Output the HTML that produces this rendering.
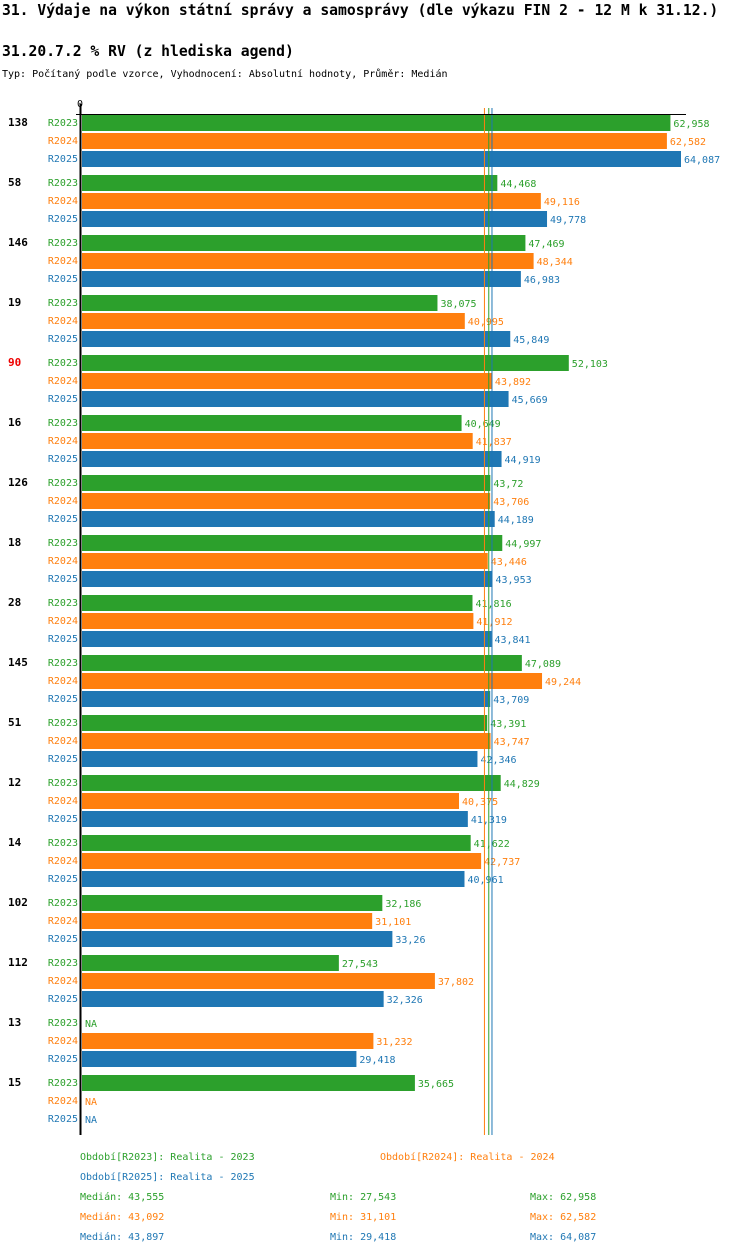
<!DOCTYPE html>
<html><head><meta charset="utf-8"><style>
body{margin:0;background:#fff;width:750px;height:1254px;overflow:hidden}
text{font-family:"DejaVu Sans Mono","Liberation Mono",monospace}
</style></head><body>
<svg id="chart" width="750" height="1254" xmlns="http://www.w3.org/2000/svg">
<text x="2" y="15" font-size="14.7" font-weight="bold">31. Výdaje na výkon státní správy a samosprávy (dle výkazu FIN 2 - 12 M k 31.12.)</text>
<text x="2" y="56" font-size="14.7" font-weight="bold">31.20.7.2 % RV (z hlediska agend)</text>
<text x="2" y="77" font-size="10">Typ: Počítaný podle vzorce, Vyhodnocení: Absolutní hodnoty, Průměr: Medián</text>
<text x="80" y="107" font-size="10" text-anchor="middle">0</text>
<g id="bars"></g>
<g id="legend"></g>
</svg>
<script>
const categories=["138","58","146","19","90","16","126","18","28","145","51","12","14","102","112","13","15"];
const s2023=[62958,44468,47469,38075,52103,40649,43720,44997,41816,47089,43391,44829,41622,32186,27543,null,35665];
const s2024=[62582,49116,48344,40995,43892,41837,43706,43446,41912,49244,43747,40375,42737,31101,37802,31232,null];
const s2025=[64087,49778,46983,45849,45669,44919,44189,43953,43841,43709,42346,41319,40961,33260,32326,29418,null];
const labels2023=["62,958","44,468","47,469","38,075","52,103","40,649","43,72","44,997","41,816","47,089","43,391","44,829","41,622","32,186","27,543","NA","35,665"];
const labels2024=["62,582","49,116","48,344","40,995","43,892","41,837","43,706","43,446","41,912","49,244","43,747","40,375","42,737","31,101","37,802","31,232","NA"];
const labels2025=["64,087","49,778","46,983","45,849","45,669","44,919","44,189","43,953","43,841","43,709","42,346","41,319","40,961","33,26","32,326","29,418","NA"];
const seriesNames=["R2023","R2024","R2025"];
const medians=[43555,43092,43897];
const highlight="90";
const colors=["#2ca02c","#ff7f0e","#1f77b4"];
const NS="http://www.w3.org/2000/svg";
const x0=81, maxV=64087, maxPx=600;
const xs=v=>x0+v/maxV*maxPx;
const g=document.getElementById('bars');
function mk(t,a,txt){const e=document.createElementNS(NS,t);for(const k in a)e.setAttribute(k,a[k]);if(txt!=null)e.textContent=txt;g.appendChild(e);return e;}
const series=[s2023,s2024,s2025], lbls=[labels2023,labels2024,labels2025];
categories.forEach((c,i)=>{
  const gy=114+i*60;
  const t=mk('text',{x:8,y:gy+12,'font-size':11,'font-weight':'bold',fill:c===highlight?'#e00':'#000'},c);
  
  
  series.forEach((s,j)=>{
    const y=gy+1+j*18;
    const sl=mk('text',{x:78,y:y+11,'font-size':10,'text-anchor':'end',fill:colors[j]},seriesNames[j]);
    
    
    const v=s[i];
    let end=x0+1;
    if(v!=null){
      const r=mk('rect',{x:x0+1,y:y,width:xs(v)-x0-1,height:16,fill:colors[j]});
      
      
      end=xs(v);
    }
    const vl=mk('text',{x:end+3,y:y+12,'font-size':10,fill:colors[j]},lbls[j][i]);
    
    
  });
});
[1,0,2].forEach(j=>{
  const l=mk('line',{x1:xs(medians[j]),x2:xs(medians[j]),y1:108,y2:1135,stroke:colors[j],'stroke-width':1});
  
  
});
const ax=mk('line',{x1:80.5,x2:80.5,y1:104,y2:1135,stroke:'#000','stroke-width':2});


const tx=mk('line',{x1:76,x2:686,y1:114.5,y2:114.5,stroke:'#000','stroke-width':1});


const leg=[
 [80,1160,"Období[R2023]: Realita - 2023",0],[380,1160,"Období[R2024]: Realita - 2024",1],[80,1180,"Období[R2025]: Realita - 2025",2],
 [80,1200,"Medián: 43,555",0],[330,1200,"Min: 27,543",0],[530,1200,"Max: 62,958",0],
 [80,1220,"Medián: 43,092",1],[330,1220,"Min: 31,101",1],[530,1220,"Max: 62,582",1],
 [80,1240,"Medián: 43,897",2],[330,1240,"Min: 29,418",2],[530,1240,"Max: 64,087",2]];
leg.forEach(l=>{
  const e=mk('text',{x:l[0],y:l[1],'font-size':10,fill:colors[l[3]]},l[2]);
  
  
});
</script>
</body></html>
